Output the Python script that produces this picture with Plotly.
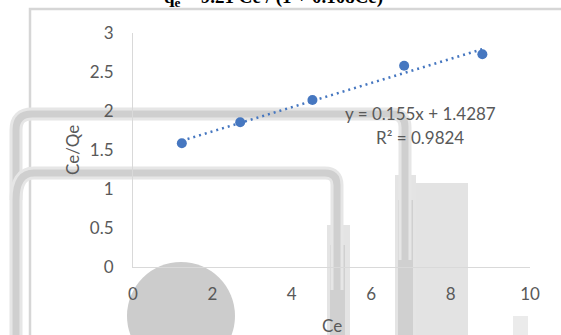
import plotly.graph_objects as go

# Langmuir linearisation: Ce/Qe against Ce
ce = [1.23, 2.70, 4.52, 6.83, 8.80]
ce_over_qe = [1.586, 1.855, 2.141, 2.580, 2.727]

# Linear trendline reported on the chart
SLOPE = 0.155
INTERCEPT = 1.4287
R2 = 0.9824

x_ticks = [0, 2, 4, 6, 8, 10]
y_ticks = [0, 0.5, 1, 1.5, 2, 2.5, 3]
y_tick_text = ["0", "0.5", "1", "1.5", "2", "2.5", "3"]

BLUE = "#4677C0"
TEXT = "#595959"
AXIS = "#d9d9d9"
FONT = "Lato"

W, H = 561, 335
PL, PR, PT, PB = 133, 530, 33, 267


def px(x):
    return (x - PL) / (PR - PL)


def py(y):
    return (PB - y) / (PB - PT)


def P(x, y):
    return f"{px(x):.5f},{py(y):.5f}"


trend_x = [min(ce), max(ce)]
trend_y = [SLOPE * v + INTERCEPT for v in trend_x]

fig = go.Figure()
fig.add_trace(go.Scatter(
    x=trend_x, y=trend_y, mode="lines",
    line=dict(color=BLUE, width=2.5, dash="2px,4px"),
    hoverinfo="skip", showlegend=False,
))
fig.add_trace(go.Scatter(
    x=ce, y=ce_over_qe, mode="markers",
    marker=dict(color=BLUE, size=10, line=dict(width=0)),
    showlegend=False,
))


def band(d, core, edge, wc, we):
    fig.add_shape(type="path", xref="paper", yref="paper", path=d,
                  line=dict(color=edge, width=we), layer="below")
    fig.add_shape(type="path", xref="paper", yref="paper", path=d,
                  line=dict(color=core, width=wc), layer="below")


def rect(x0, x1, y0, y1, color):
    fig.add_shape(type="rect", xref="paper", yref="paper",
                  x0=px(x0), x1=px(x1), y0=py(y0), y1=py(y1),
                  fillcolor=color, line=dict(width=0), layer="below")


# background frame
fig.add_shape(type="path", xref="paper", yref="paper",
              path=f"M {P(30, 360)} L {P(30, 9)} L {P(600, 9)}",
              line=dict(color="#d6d6d6", width=2.5), layer="below")

# light panels
rect(416, 468, 183, 360, "#e3e3e3")
rect(513, 528, 316, 360, "#ebebeb")

# the vertical strokes of the rounded frames widen towards the bottom
rect(395, 416, 175, 360, "#e4e4e4")
rect(398, 413, 200, 360, "#d0d0d0")
rect(327, 350, 225, 360, "#e4e4e4")
rect(330, 345, 245, 360, "#d0d0d0")

# rounded frames
band(f"M {P(16, 360)} L {P(16, 130)} Q {P(16, 114)} {P(32, 114)} "
     f"L {P(392, 114)} Q {P(405, 114)} {P(405, 127)} L {P(405, 260)}",
     "#cfcfcf", "#e6e6e6", 7, 13)
band(f"M {P(16, 200)} Q {P(16, 173)} {P(34, 173)} "
     f"L {P(325, 173)} Q {P(337, 173)} {P(337, 185)} L {P(337, 290)}",
     "#cfcfcf", "#e6e6e6", 7, 13)

# disc
fig.add_shape(type="circle", xref="paper", yref="paper",
              x0=px(127), x1=px(235), y0=py(262), y1=py(370),
              fillcolor="#cccccc", line=dict(width=0), layer="below")

ann = [
    dict(text=f"y = {SLOPE}x + {INTERCEPT}", x=px(420), y=py(113)),
    dict(text=f"R² = {R2}", x=px(420), y=py(137)),
    dict(text="Ce", x=px(332), y=py(325)),
    dict(text="Ce/Qe", x=px(72), y=py(150), textangle=-90),
]
for a in ann:
    fig.add_annotation(xref="paper", yref="paper", showarrow=False,
                       xanchor="center", yanchor="middle",
                       font=dict(family=FONT, size=17, color=TEXT), **a)

fig.add_annotation(
    xref="paper", yref="paper", showarrow=False, xanchor="center", yanchor="middle",
    x=px(273), y=py(-2),
    text="q<sub>e</sub> = 9.21 Ce / (1 + 0.108Ce)",
    font=dict(family="Liberation Serif", size=19, color="#000000", weight="bold"),
)

fig.update_xaxes(
    range=[0, 10], tickvals=x_ticks, showgrid=False, zeroline=False,
    showline=True, linecolor=AXIS, linewidth=1, ticks="",
    tickfont=dict(family=FONT, size=17, color=TEXT), ticklabelstandoff=12,
)
fig.update_yaxes(
    range=[0, 3], tickvals=y_ticks, ticktext=y_tick_text, showgrid=False,
    zeroline=False, showline=True, linecolor=AXIS, linewidth=1, ticks="",
    tickfont=dict(family=FONT, size=17, color=TEXT), ticklabelstandoff=15,
)
fig.update_layout(
    width=W, height=H,
    margin=dict(l=PL, r=W - PR, t=PT, b=H - PB),
    paper_bgcolor="white", plot_bgcolor="rgba(0,0,0,0)",
    showlegend=False,
)
fig.write_html("out.html")
